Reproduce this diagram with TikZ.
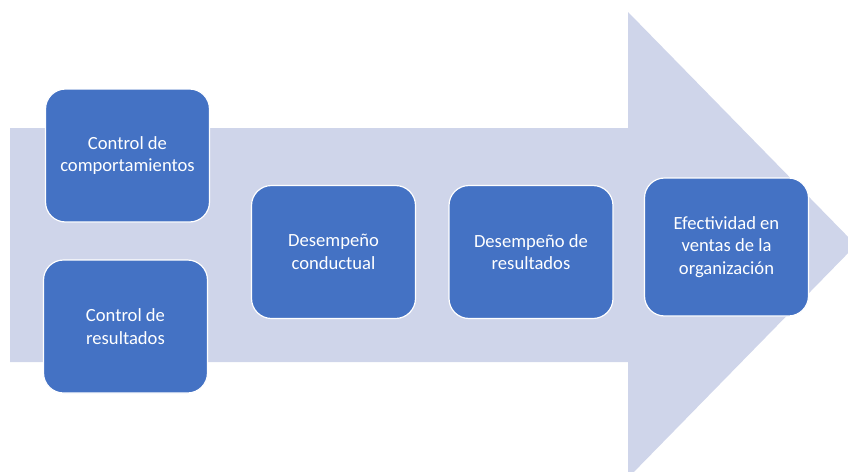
\documentclass[tikz,border=0pt]{standalone}
\usepackage{fontspec}
\setmainfont{Carlito}
\usetikzlibrary{positioning}
\definecolor{arrowFill}{HTML}{CFD5EA}
\definecolor{stepBlue}{HTML}{4472C4}
\tikzset{
  stepbox/.style={rounded corners=20pt,draw=white,line width=1.2pt,fill=stepBlue,
                  text=white,align=center,font=\fontsize{18.6}{22.5}\selectfont,
                  minimum width=164pt,minimum height=133pt,inner sep=4pt},
}

\begin{document}
\begin{tikzpicture}[x=1pt,y=-1pt]
  \useasboundingbox (0,0) rectangle (848,471);
  % big arrow behind the steps
  \fill[arrowFill] (10,128) -- (628,128) -- (628,12) -- (856,245)
                   -- (628,478) -- (628,362) -- (10,362) -- cycle;
  \node[stepbox] (cb) at (127.5,155.5) {Control de\\comportamientos};
  \node[stepbox] (cr) at (125.5,326.5) {Control de\\resultados};
  \node[stepbox] (dc) at (333.5,252) {Desempeño\\conductual};
  \node[stepbox] (dr) at (531,252) {Desempeño de\\resultados};
  \node[stepbox,minimum height=138pt] (ev) at (726.5,247) {Efectividad en\\ventas de la\\organización};
\end{tikzpicture}
\end{document}
